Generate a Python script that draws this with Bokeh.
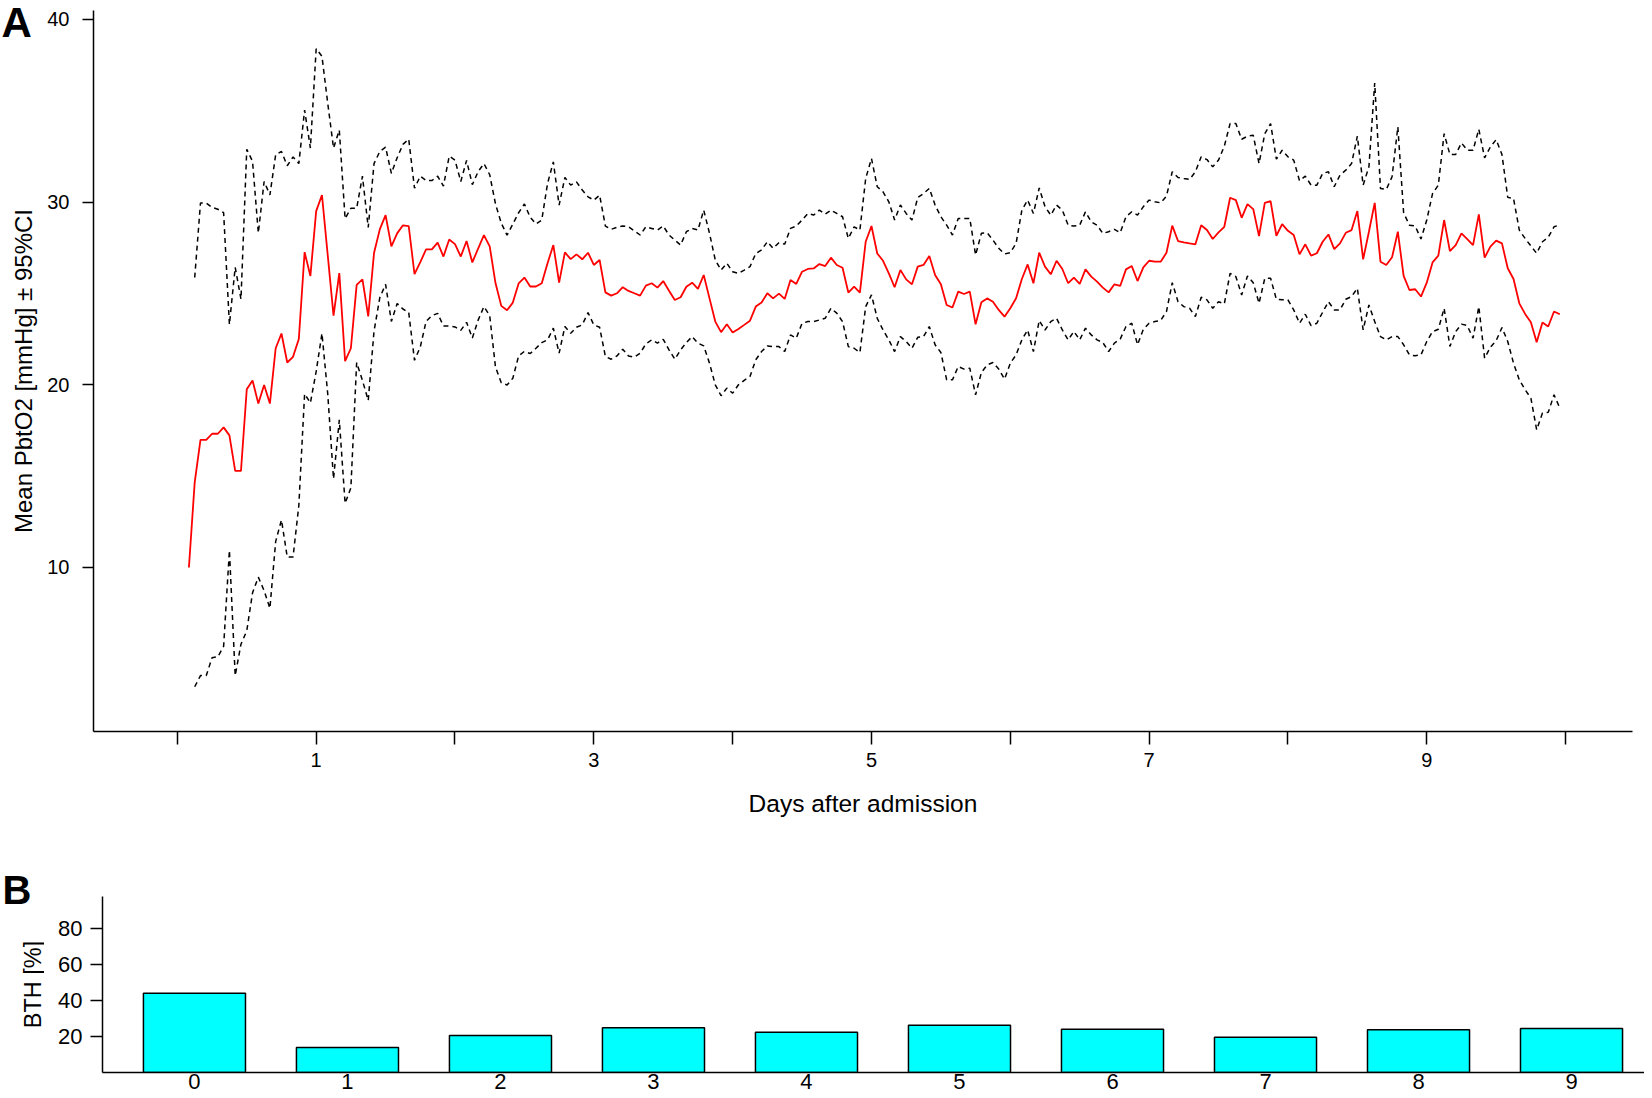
import math
from bokeh.plotting import figure
from bokeh.layouts import column, row
from bokeh.models import FixedTicker, Label
from bokeh.embed import file_html
from bokeh.resources import INLINE

FONT = "Liberation Sans"

# ---------------- data ----------------
# hourly samples, hours after admission
hours_mean = list(range(2, 240))
hours_ci = list(range(3, 240))

mean_pbto2 = [
    10.0, 14.66, 16.98, 16.98, 17.32, 17.32, 17.67, 17.23, 15.29, 15.29,
    19.75, 20.24, 18.97, 19.99, 18.97, 22.0, 22.81, 21.22, 21.53, 22.51,
    27.26, 25.96, 29.51, 30.39, 27.09, 23.79, 26.11, 21.29, 22.0, 25.47,
    25.77, 23.74, 27.21, 28.51, 29.29, 27.58, 28.29, 28.73, 28.68, 26.06,
    26.72, 27.41, 27.41, 27.78, 27.02, 27.95, 27.70, 27.02, 27.87, 26.70,
    27.46, 28.19, 27.58, 25.57, 24.32, 24.08, 24.50, 25.55, 25.87, 25.38,
    25.38, 25.56, 26.65, 27.65, 25.59, 27.25, 26.88, 27.14, 26.87, 27.23,
    26.56, 26.83, 25.06, 24.88, 25.01, 25.34, 25.14, 25.01, 24.88, 25.43,
    25.56, 25.32, 25.68, 25.15, 24.64, 24.79, 25.37, 25.59, 25.25, 26.01,
    24.73, 23.46, 22.88, 23.31, 22.86, 23.06, 23.28, 23.51, 24.28, 24.50,
    25.01, 24.73, 24.99, 24.70, 25.74, 25.52, 26.19, 26.34, 26.37, 26.61,
    26.50, 26.96, 26.56, 26.41, 25.05, 25.37, 25.05, 27.83, 28.69, 27.19,
    26.79, 26.10, 25.34, 26.28, 25.77, 25.50, 26.47, 26.56, 27.05, 26.01,
    25.50, 24.37, 24.23, 25.10, 24.97, 25.10, 23.31, 24.52, 24.73, 24.55,
    24.10, 23.73, 24.19, 24.74, 25.79, 26.59, 25.56, 27.23, 26.47, 26.05,
    26.79, 26.34, 25.56, 25.87, 25.52, 26.32, 25.92, 25.65,
    25.32, 25.06, 25.50, 25.41, 26.32, 26.50, 25.68, 26.43, 26.79, 26.74,
    26.74, 27.23, 28.71, 27.87, 27.80, 27.74, 27.69, 28.73, 28.47, 27.98,
    28.34, 28.65, 30.24, 30.11, 29.14, 29.89, 29.62, 28.14, 29.96, 30.06,
    28.16, 28.80, 28.43, 28.20, 27.14, 27.69, 27.07, 27.20, 27.83, 28.23,
    27.43, 27.74, 28.32, 28.47, 29.51, 26.87, 28.38, 29.96, 26.74, 26.56,
    26.98, 28.38, 25.96, 25.19, 25.23, 24.83, 25.59, 26.70, 27.07, 29.02,
    27.32, 27.65, 28.29, 27.98, 27.65, 29.33, 26.96, 27.56, 27.89, 27.74,
    26.38, 25.79, 24.46, 23.88, 23.42, 22.33, 23.41, 23.19, 24.01, 23.86,
]

upper_ci = [
    25.87, 29.95, 29.95, 29.71, 29.61, 29.42, 23.30, 26.43, 24.69, 32.89,
    32.23, 28.31, 31.13, 30.39, 32.60, 32.77, 31.99, 32.47, 32.11, 35.04,
    32.96, 38.40, 37.98, 35.41, 32.96, 33.94, 29.10, 29.66, 29.66, 31.42,
    28.61, 32.11, 32.77, 33.01, 31.57, 32.43, 33.16, 33.45, 30.76, 31.42,
    31.18, 31.18, 31.42, 30.88, 32.52, 32.30, 31.13, 32.28, 30.96, 31.67,
    32.11, 31.50, 29.90, 28.85, 28.19, 28.80, 29.42, 29.90, 29.17, 28.80,
    29.02, 31.02, 32.20, 29.84, 31.35, 30.93, 31.11, 30.66, 30.29, 30.11,
    30.38, 28.69, 28.51, 28.62, 28.69, 28.65, 28.43, 28.20, 28.65, 28.56,
    28.47, 28.69, 28.20, 27.92, 27.65, 28.38, 28.56, 28.47, 29.56, 28.29,
    26.83, 26.28, 26.65, 26.19, 26.10, 26.28, 26.47, 27.19, 27.38, 27.83,
    27.47, 27.78, 27.70, 28.56, 28.69, 29.02, 29.38, 29.29, 29.56, 29.34,
    29.56, 29.38, 29.20, 28.01, 28.65, 28.47, 31.29, 32.39, 30.84, 30.56,
    30.02, 29.02, 29.84, 29.38, 29.02, 30.25, 30.47, 30.75, 29.84, 29.20,
    28.74, 28.20, 29.11, 29.11, 29.11, 27.10, 28.29, 28.32, 27.92, 27.47,
    27.16, 27.23, 27.74, 29.56, 30.11, 29.38, 30.78, 29.75, 29.29, 29.84,
    29.56, 28.74, 28.69, 28.74, 29.47, 28.92, 28.74,
    28.29, 28.38, 28.51, 28.33, 29.20, 29.47, 29.29, 29.75, 30.11, 30.02,
    29.96, 30.33, 31.66, 31.35, 31.29, 31.24, 31.66, 32.48, 32.33, 31.93,
    32.30, 33.06, 34.30, 34.30, 33.44, 33.61, 33.66, 32.11, 33.75, 34.30,
    32.35, 32.84, 32.48, 32.30, 31.17, 31.42, 30.93, 30.93, 31.57, 31.66,
    30.84, 31.48, 31.75, 32.11, 33.61, 30.93, 31.93, 36.52, 30.75, 30.69,
    31.39, 34.12, 29.42, 28.74, 28.69, 27.98, 29.02, 30.47, 30.93, 33.75,
    32.61, 32.61, 33.24, 32.84, 32.84, 33.99, 32.42, 33.02, 33.42, 32.61,
    30.26, 30.20, 28.47, 28.01, 27.60, 27.20, 27.83, 28.07, 28.65, 28.75,
]

lower_ci = [
    3.47, 4.08, 4.08, 5.06, 5.11, 5.68, 10.94, 4.08, 5.80, 6.53,
    8.61, 9.47, 8.73, 7.76, 11.43, 12.60, 10.57, 10.57, 13.38, 19.50,
    19.01, 20.73, 22.81, 19.50, 14.85, 18.08, 13.51, 14.36, 21.22, 20.24,
    19.14, 22.93, 24.77, 25.50, 23.47, 24.45, 24.15, 23.96, 21.34, 22.07,
    23.47, 23.79, 23.91, 23.22, 23.22, 23.17, 22.98, 23.42, 22.56, 23.54,
    24.28, 23.79, 20.97, 20.11, 19.99, 20.36, 21.58, 21.83, 21.71, 22.00,
    22.31, 22.46, 23.10, 21.73, 23.19, 22.82, 23.15, 23.28, 23.95, 23.28,
    23.15, 21.55, 21.40, 21.58, 21.95, 21.58, 21.51, 21.73, 22.24, 22.46,
    22.28, 22.49, 21.91, 21.40, 21.91, 22.31, 22.64, 22.28, 22.13, 21.18,
    20.00, 19.40, 19.82, 19.54, 20.00, 20.24, 20.46, 21.37, 21.82, 22.13,
    22.09, 22.09, 21.82, 22.73, 22.55, 23.37, 23.46, 23.46, 23.55, 23.64,
    24.19, 23.92, 23.46, 22.09, 22.00, 21.77, 24.28, 24.92, 23.64, 23.00,
    22.46, 21.82, 22.64, 22.37, 22.00, 22.60, 22.64, 23.19, 22.19, 21.77,
    20.27, 20.27, 21.00, 20.86, 20.91, 19.45, 20.67, 21.09, 21.22, 20.86,
    20.31, 21.18, 21.64, 22.46, 23.00, 21.82, 23.52, 23.00, 23.46, 23.64,
    23.00, 22.46, 22.92, 22.46, 23.10, 22.73, 22.46,
    22.31, 21.82, 22.28, 22.50, 23.19, 23.37, 22.19, 23.04, 23.37, 23.46,
    23.52, 24.01, 25.59, 24.55, 24.28, 24.19, 23.73, 24.79, 24.65, 24.19,
    24.55, 24.43, 26.10, 25.92, 24.92, 25.96, 25.59, 24.46, 25.83, 25.83,
    24.68, 24.65, 24.65, 24.10, 23.37, 23.86, 23.24, 23.37, 23.97, 24.55,
    24.10, 24.10, 24.68, 24.83, 25.28, 23.01, 24.37, 23.46, 22.64, 22.46,
    22.64, 22.64, 22.19, 21.64, 21.59, 21.64, 22.37, 22.91, 23.04, 24.19,
    22.10, 22.91, 23.32, 23.24, 22.55, 24.28, 21.46, 22.06, 22.42, 23.13,
    22.37, 21.18, 20.27, 19.73, 19.27, 17.54, 18.45, 18.49, 19.45, 18.73,
]

bth_days = [0, 1, 2, 3, 4, 5, 6, 7, 8, 9]
bth_pct = [44.1, 13.9, 20.5, 24.9, 22.4, 26.3, 24.1, 19.6, 23.7, 24.4]

x_ticks_a = [0, 1, 2, 3, 4, 5, 6, 7, 8, 9, 10]
x_labels_a = {0: "", 2: "", 4: "", 6: "", 8: "", 10: ""}
y_ticks_a = [10, 20, 30, 40]
y_ticks_b = [20, 40, 60, 80]

days_mean = [h / 24 for h in hours_mean]
days_ci = [h / 24 for h in hours_ci]


# ---------------- helpers ----------------
def style_axes(p, label_size):
    p.xgrid.visible = False
    p.ygrid.visible = False
    p.outline_line_color = None
    p.background_fill_color = "white"
    p.border_fill_color = "white"
    for ax in p.axis:
        ax.axis_line_color = "black"
        ax.axis_line_width = 1.5
        ax.major_tick_line_color = "black"
        ax.major_tick_line_width = 1.5
        ax.major_tick_in = 0
        ax.minor_tick_line_color = None
        ax.major_label_text_font = FONT
        ax.major_label_text_font_size = label_size
        ax.major_label_text_color = "black"
        ax.axis_label_text_font = FONT
        ax.axis_label_text_font_size = "24.5px"
        ax.axis_label_text_font_style = "normal"
        ax.axis_label_text_color = "black"


TOTAL_W = 1644
HA = 850
HB = 248
H = HA + HB
SW = 44   # width of the left strip (panel letters + y titles)

# ---------------- left strip with panel letters and y-axis titles ----------------
strip = figure(width=SW, height=H, x_range=(0, 1), y_range=(0, 1),
               output_backend="svg", toolbar_location=None,
               x_axis_location=None, y_axis_location=None, min_border=0)
strip.xgrid.visible = False
strip.ygrid.visible = False
strip.outline_line_color = None
strip.background_fill_color = "white"
strip.border_fill_color = "white"

# labels are vertically centred (text_baseline="middle") on the given screen y
strip.add_layout(Label(x=1, y=H - 21.5, x_units="screen", y_units="screen", text="A",
                       text_font=FONT, text_font_size="42px", text_font_style="bold",
                       text_baseline="middle", text_align="left", text_color="black"))
strip.add_layout(Label(x=23, y=H - 370.5, x_units="screen", y_units="screen",
                       text="Mean PbtO2 [mmHg] \u00b1 95%CI", angle=math.pi / 2,
                       text_font=FONT, text_font_size="24px",
                       text_baseline="middle", text_align="center", text_color="black"))
strip.add_layout(Label(x=2, y=H - 889, x_units="screen", y_units="screen", text="B",
                       text_font=FONT, text_font_size="40px", text_font_style="bold",
                       text_baseline="middle", text_align="left", text_color="black"))
strip.add_layout(Label(x=32, y=H - 984, x_units="screen", y_units="screen",
                       text="BTH [%]", angle=math.pi / 2,
                       text_font=FONT, text_font_size="23.5px",
                       text_baseline="middle", text_align="center", text_color="black"))

# ---------------- panel A ----------------
pA = figure(width=TOTAL_W - SW, height=HA, x_range=(-0.604, 10.482), y_range=(1.02, 40.49),
            output_backend="svg", toolbar_location=None,
            min_border_left=91 - SW, min_border_right=12, min_border_top=10,
            min_border_bottom=HA - 731)
style_axes(pA, "20px")

pA.line(days_ci, upper_ci, line_color="black", line_width=1.5, line_dash="5 4")
pA.line(days_ci, lower_ci, line_color="black", line_width=1.5, line_dash="5 4")
pA.line(days_mean, mean_pbto2, line_color="#FF0000", line_width=1.8)

pA.xaxis.ticker = FixedTicker(ticks=x_ticks_a)
pA.xaxis.major_label_overrides = x_labels_a
pA.xaxis.major_tick_out = 13
pA.xaxis.major_label_standoff = 8
pA.xaxis.axis_label = "Days after admission"
pA.xaxis.axis_label_standoff = 20

pA.yaxis.ticker = FixedTicker(ticks=y_ticks_a)
pA.yaxis.major_tick_out = 11
pA.yaxis.major_label_standoff = 13

# ---------------- panel B ----------------
pB = figure(width=TOTAL_W - SW, height=HB, x_range=(-0.601, 9.477), y_range=(0, 97.8),
            output_backend="svg", toolbar_location=None,
            min_border_left=102 - SW, min_border_right=0, min_border_top=896 - HA,
            min_border_bottom=H - 1072)
style_axes(pB, "22px")

pB.vbar(x=bth_days, top=bth_pct, bottom=0, width=0.667,
        fill_color="#00FFFF", line_color="black", line_width=1.5)

pB.xaxis.ticker = FixedTicker(ticks=bth_days)
pB.xaxis.major_tick_out = 0
pB.xaxis.major_label_standoff = 1

pB.yaxis.ticker = FixedTicker(ticks=y_ticks_b)
pB.yaxis.major_tick_out = 12
pB.yaxis.major_label_standoff = 8

layout = row(strip, column(row(pA), row(pB)))
with open("out.html", "w", encoding="utf-8") as f:
    f.write(file_html(layout, INLINE))
